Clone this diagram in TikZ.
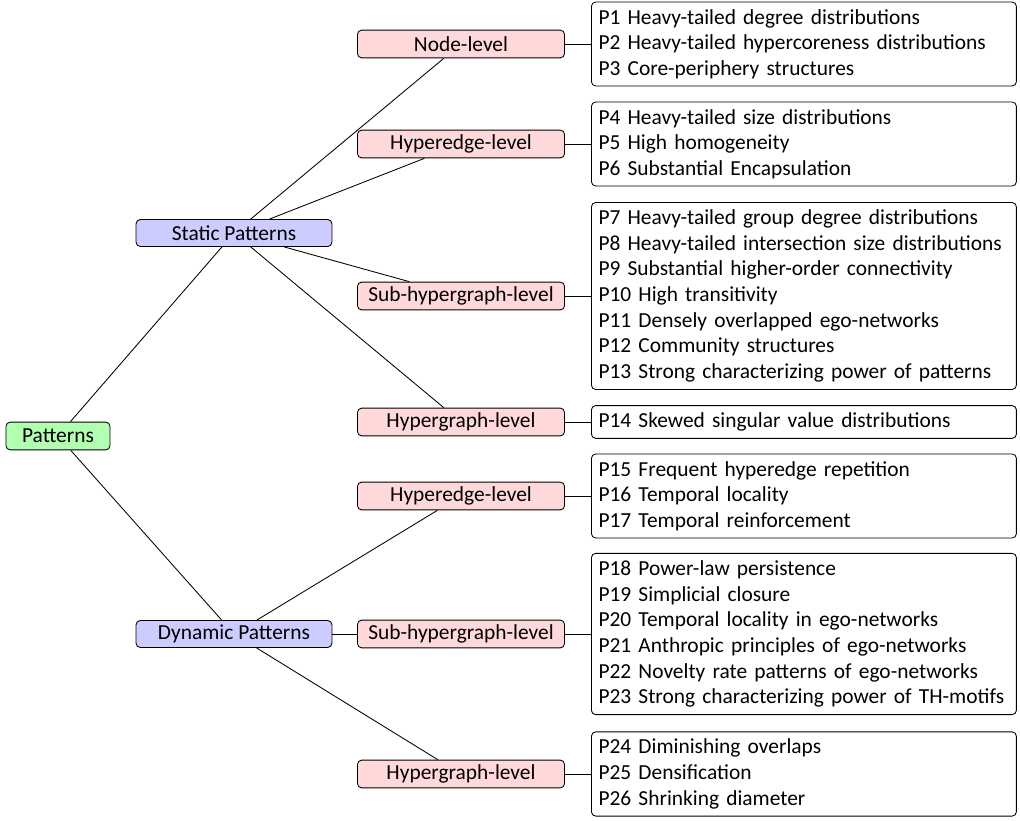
\documentclass[tikz,border=0pt]{standalone}
\usepackage{fontspec}
\setmainfont{Carlito}
\usepackage[dvipsnames]{xcolor}

\begin{document}
\begin{tikzpicture}[x=0.467pt,y=-0.467pt,-,thin,font=\fontsize{10}{12}\selectfont,
    root node/.style={draw,rounded corners=2pt,fill=green!30,minimum width=48.6pt,minimum height=13pt,inner sep=2pt},
    kind node/.style={draw,rounded corners=2pt,fill=blue!20,minimum width=91.5pt,minimum height=12.6pt,inner sep=2pt},
    level node/.style={draw,rounded corners=2pt,fill=red!15,minimum width=96.7pt,minimum height=13pt,inner sep=2pt},
    list node/.style={draw,rounded corners=2pt,fill=white,text width=191.8pt,align=left,inner sep=3.33pt}]

            \useasboundingbox (0,0) rectangle (1020,821);

            \node[root node] (p) at (58,436) {Patterns};

            \node[kind node] (s) at (234,233) {Static Patterns};
            \node[kind node] (d) at (234,634) {Dynamic Patterns};

            \node[level node] (s1) at (461,44) {Node-level};
            \node[level node] (s2) at (461,144) {Hyperedge-level};
            \node[level node] (s3) at (461,296) {Sub-hypergraph-level};
            \node[level node] (s4) at (461,422) {Hypergraph-level};
            \node[level node] (d1) at (461,496) {Hyperedge-level};
            \node[level node] (d2) at (461,634) {Sub-hypergraph-level};
            \node[level node] (d3) at (461,774) {Hypergraph-level};

            \node[list node,anchor=west] (l1) at (591,44) {P1 Heavy-tailed degree distributions\\P2 Heavy-tailed hypercoreness distributions\\P3 Core-periphery structures};
            \node[list node,anchor=west] (l2) at (591,144) {P4 Heavy-tailed size distributions\\P5 High homogeneity\\P6 Substantial Encapsulation};
            \node[list node,anchor=west] (l3) at (591,296) {P7 Heavy-tailed group degree distributions\\P8 Heavy-tailed intersection size distributions\\P9 Substantial higher-order connectivity\\P10 High transitivity\\P11 Densely overlapped ego-networks\\P12 Community structures\\P13 Strong characterizing power of patterns};
            \node[list node,anchor=west] (l4) at (591,422) {P14 Skewed singular value distributions};
            \node[list node,anchor=west] (l5) at (591,496) {P15 Frequent hyperedge repetition\\P16 Temporal locality\\P17 Temporal reinforcement};
            \node[list node,anchor=west] (l6) at (591,634) {P18 Power-law persistence\\P19 Simplicial closure\\P20 Temporal locality in ego-networks\\P21 Anthropic principles of ego-networks\\P22 Novelty rate patterns of ego-networks\\P23 Strong characterizing power of TH-motifs};
            \node[list node,anchor=west] (l7) at (591,774) {P24 Diminishing overlaps\\P25 Densification\\P26 Shrinking diameter};

            \draw (p) to (s);
            \draw (p) to (d);

            \foreach \i in {1,...,4}
                \draw (s) to (s\i);
            \foreach \i in {1,2,3}
                \draw (d) to (d\i);

            \draw (s1) to (l1);
            \draw (s2) to (l2);
            \draw (s3) to (l3);
            \draw (s4) to (l4);
            \draw (d1) to (l5);
            \draw (d2) to (l6);
            \draw (d3) to (l7);

            ;
        \end{tikzpicture}
\end{document}
